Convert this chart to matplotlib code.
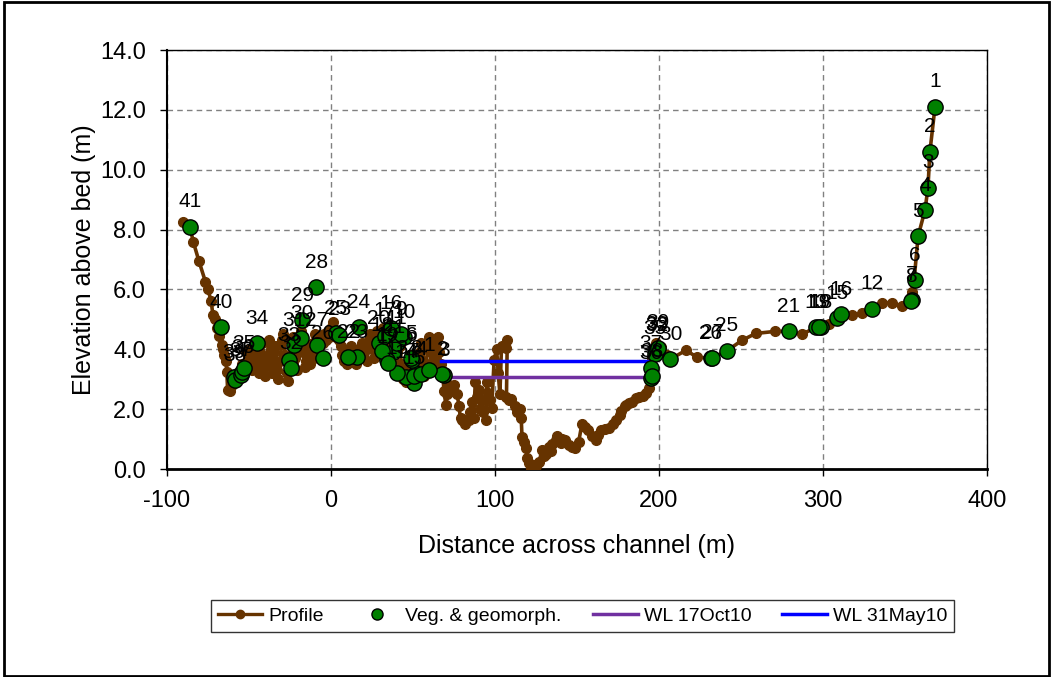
import matplotlib
matplotlib.use('Agg')
import matplotlib.pyplot as plt
from matplotlib.lines import Line2D
from matplotlib.patches import Rectangle

plt.rcParams['font.family'] = ['Liberation Sans', 'DejaVu Sans']
plt.rcParams['axes.unicode_minus'] = False

# surveyed cross-section, left bank to right bank
prof_x = [-90.5, -86, -84, -80.5, -76.5, -75, -73, -72, -71, -69.5, -68, -66.5, -66, -65, -64, -63.5, -63, -61.5,
          -60.5, -60, -59, -58, -57, -56, -55, -54, -53, -52, -51, -50, -49, -48, -47, -46, -45, -44, -43, -42,
          -41, -40, -39, -38, -37, -36, -35, -34, -33, -32, -31, -30, -29, -28, -27, -26, -25, -24, -23, -22,
          -21, -20, -19, -18, -17, -16, -15, -14, -13, -12, -11, -10, -9, -8, -7, -6, -5, -4, -3, -2, -1, 0,
          1, 2, 3, 4, 5, 6, 7, 8, 9, 10, 11, 12, 13, 14, 15, 16, 17, 18, 19, 20, 21, 22, 23, 24, 25, 26, 27,
          28, 29, 30, 31, 32, 33, 34, 35, 36, 37, 38, 39, 40, 41, 42, 43, 44, 45, 46, 47, 48, 49, 50, 51, 52,
          53, 54, 55, 56, 57, 58, 59, 60, 61, 62, 63, 64, 65, 66, 67, 68,
          69, 70, 71, 72, 73, 75, 77, 78, 79, 80, 82, 84, 85, 86, 87, 88, 89, 90, 91, 92, 93, 94.5, 95, 96, 97,
          98, 99.5, 101, 102, 103, 104, 106.5, 107.5, 107, 108.5, 110, 112, 113.5, 115, 116, 116.5, 118, 119,
          119.5, 121, 122, 123.5, 125, 127, 128.6, 130, 131, 133, 134, 135, 137, 138, 140, 141, 143, 145, 147,
          149, 151, 153, 155, 157, 159, 161.5, 163, 164.6, 167, 169.5, 172, 173.8, 176, 177, 179, 180, 182,
          183.5, 186, 188, 190, 192, 194, 195, 195.5, 196, 197, 198, 199, 201, 205, 207, 216.5, 223, 231.7,
          241.5, 250.6, 259, 271, 279, 287, 295.7, 299, 303.7, 308.5, 311, 317.7, 323.8, 330, 336, 342, 348,
          353.6, 354, 355.5, 358, 362.2, 364, 365.2, 368.3]
prof_y = [8.25, 8.1, 7.6, 6.95, 6.25, 6.0, 5.6, 5.15, 5.0, 4.7, 4.45, 4.15, 4.0, 3.8, 3.6, 3.25, 2.65, 2.6,
          2.8, 3.1, 3.0, 2.95, 3.2, 3.0, 3.3, 3.5, 3.4, 3.9, 3.6, 4.0, 3.5, 3.3, 3.8, 4.1, 3.6, 3.2, 3.9, 4.2,
          3.4, 3.1, 3.7, 4.3, 3.5, 3.2, 3.9, 4.1, 3.3, 3.0, 3.6, 4.3, 4.5, 3.8, 3.2, 2.95, 3.5, 4.1, 4.4, 3.7,
          3.3, 3.9, 4.3, 4.6, 3.9, 3.4, 3.6, 4.0, 3.5, 3.8, 4.2, 4.5, 4.0, 3.7, 4.1, 4.4, 4.2, 4.5, 4.3, 4.6, 4.4, 4.7,
          4.9, 4.6, 4.4, 4.5, 4.3, 4.1, 3.8, 3.6, 3.9, 3.5, 3.8, 4.1, 3.6, 3.9, 3.5, 3.8, 4.0, 3.7, 4.2, 3.9, 4.1, 3.6, 4.3,
          4.5, 4.0, 3.7, 4.2, 4.6, 4.3, 3.8, 4.4, 4.7, 4.0, 3.6, 4.2, 4.8, 4.3, 3.7, 3.4, 3.9, 4.5, 4.1, 3.5, 3.0,
          3.4, 2.9, 3.3, 3.8, 3.1, 2.8, 3.3, 3.6, 3.2, 3.9, 4.2, 3.6, 3.1, 3.5, 4.0, 4.4, 3.9, 3.4, 3.7, 4.2, 4.4,
          3.9, 3.5, 3.2,
          2.6, 2.15, 2.5, 2.8, 2.6, 2.8, 2.5, 2.1, 1.7, 1.65, 1.5, 1.65, 1.9, 2.25, 1.7, 2.9, 2.4, 2.65, 2.0, 2.3,
          1.9, 1.65, 2.9, 2.55, 2.3, 2.05, 3.65, 4.0, 3.2, 2.5, 4.1, 4.05, 4.3, 2.4, 2.3, 2.35, 2.1, 1.9, 2.0, 1.7,
          1.07, 0.9, 0.7, 0.37, 0.2, 0.05, 0.15, 0.1, 0.25, 0.63, 0.45, 0.5, 0.74, 0.6, 0.85, 0.97, 1.1, 0.87,
          1.0, 0.97, 0.8, 0.75, 0.7, 0.9, 1.5, 1.4, 1.3, 1.1, 0.97, 1.15, 1.3, 1.35, 1.37, 1.5, 1.63, 1.8, 1.95,
          2.1, 2.14, 2.2, 2.24, 2.37, 2.4, 2.45, 2.54, 2.7, 3.04, 3.37, 3.7, 3.8, 4.2, 4.0, 4.08, 3.8, 3.67,
          3.97, 3.74, 3.7, 3.95, 4.3, 4.53, 4.6, 4.6, 4.5, 4.73, 4.73, 4.83, 5.04, 5.17, 5.13, 5.2, 5.35, 5.55,
          5.55, 5.45, 5.6, 5.9, 6.28, 7.78, 8.65, 9.39, 10.6, 12.1]

# vegetation / geomorphology sample points and their numbers
veg_x = [-86, -67, -59, -58.5, -55, -54, -53, -45, -25.6, -24.4, -22.5, -18, -17.5, -9, -8.5, -4.9, 3, 17,
         15.8, 10.4, 38, 29.3, 34, 31, 33, 36.6, 50.6, 46, 40, 35, 40, 44.5, 43, 52, 50.6, 49.4, 48.8, 55,
         69, 68, 59.8, 5,
         368.3, 365.2, 364, 362.2, 358, 356, 354, 353.6, 330, 296, 308.5, 311, 299, 297.5, 279, 241.5,
         231.7, 232.5, 207, 198.5, 199, 197.5, 195, 195, 195.5, 199.5]
veg_y = [8.1, 4.74, 3.07, 2.97, 3.14, 3.24, 3.37, 4.2, 3.64, 3.37, 4.14, 4.37, 4.97, 6.08, 4.14, 3.7, 4.54,
         4.74, 3.74, 3.74, 3.9, 4.2, 3.64, 3.95, 4.45, 4.7, 2.87, 3.07, 3.2, 3.55, 4.2, 4.4, 4.5, 3.2, 3.1,
         3.64, 3.7, 3.17, 3.14, 3.16, 3.3, 4.48,
         12.1, 10.6, 9.39, 8.65, 7.78, 6.3, 5.65, 5.6, 5.35, 4.73, 5.04, 5.17, 4.73, 4.73, 4.6, 3.95,
         3.7, 3.72, 3.67, 3.95, 4.0, 3.85, 3.04, 3.37, 3.1, 4.05]
veg_lab = ['41', '40', '39', '38', '37', '36', '35', '34', '33', '32', '31', '30', '29', '28', '27', '26',
           '25', '24', '23', '22', '21', '20', '19', '18', '17', '16', '15', '14', '13', '12', '11', '10',
           '9', '8', '7', '6', '5', '4', '3', '2', '1', '23',
           '1', '2', '3', '4', '5', '6', '7', '8', '12', '13', '15', '16', '18', '19', '21', '25',
           '26', '27', '30', '32', '33', '35', '36', '37', '38', '39']

# water levels
wl_oct_x = [70, 195]
wl_oct_y = [3.07, 3.07]
wl_may_x = [67, 195]
wl_may_y = [3.61, 3.61]

brown = '#663300'
fig = plt.figure(figsize=(10.52, 6.77), dpi=100)
ax = fig.add_axes([0.1587, 0.3072, 0.7795, 0.6189])

ax.plot(prof_x, prof_y, color=brown, lw=2.6, marker='o', ms=7, mec=brown, zorder=3)
ax.plot(wl_oct_x, wl_oct_y, color='#7030A0', lw=2.5, zorder=4)
ax.plot(wl_may_x, wl_may_y, color='#0000FF', lw=2.5, zorder=4)
ax.plot(veg_x, veg_y, ls='none', marker='o', ms=11, mfc='#008000', mec='black', mew=1, zorder=5)
for x, y, s in zip(veg_x, veg_y, veg_lab):
    ax.annotate(s, (x, y), xytext=(0, 18), textcoords='offset points', ha='center', va='center',
                fontsize=15, zorder=6)

ax.set_xlim(-100, 400)
ax.set_ylim(0, 14)
ax.set_xticks(range(-100, 401, 100))
ax.set_yticks(range(0, 15, 2))
ax.set_yticklabels(['%.1f' % v for v in range(0, 15, 2)])
ax.tick_params(labelsize=17, direction='out', length=5, width=1)
ax.tick_params(axis='x', pad=10)
ax.tick_params(axis='y', pad=10)
ax.grid(True, color='#808080', ls=(0, (4, 3)), lw=1)
ax.set_axisbelow(True)
for sp in ax.spines.values():
    sp.set_color('black')
    sp.set_linewidth(1)
ax.spines['left'].set_linewidth(1.5)
ax.spines['bottom'].set_linewidth(2)
ax.set_xlabel('Distance across channel (m)', fontsize=18, labelpad=16)
ax.set_ylabel('Elevation above bed (m)', fontsize=18, labelpad=3)

handles = [Line2D([], [], color=brown, lw=2.4, marker='o', ms=6),
           Line2D([], [], ls='none', marker='o', ms=8, mfc='#008000', mec='black'),
           Line2D([], [], color='#7030A0', lw=2.5),
           Line2D([], [], color='#0000FF', lw=2.5)]
names = ['Profile', 'Veg. & geomorph.', 'WL 17Oct10', 'WL 31May10']
leg = fig.legend(handles, names, loc='center', bbox_to_anchor=(0.5537, 0.0901), ncol=4, fontsize=14,
                 frameon=True, fancybox=False, edgecolor='black', handlelength=2.3, columnspacing=1.6,
                 borderpad=0.35, handletextpad=0.3)
leg.get_frame().set_linewidth(1)

fig.patches.append(Rectangle((0.004, 0.002), 0.993, 0.995, transform=fig.transFigure, fill=False,
                             edgecolor='black', lw=2))

fig.savefig('out.png', dpi=100)
